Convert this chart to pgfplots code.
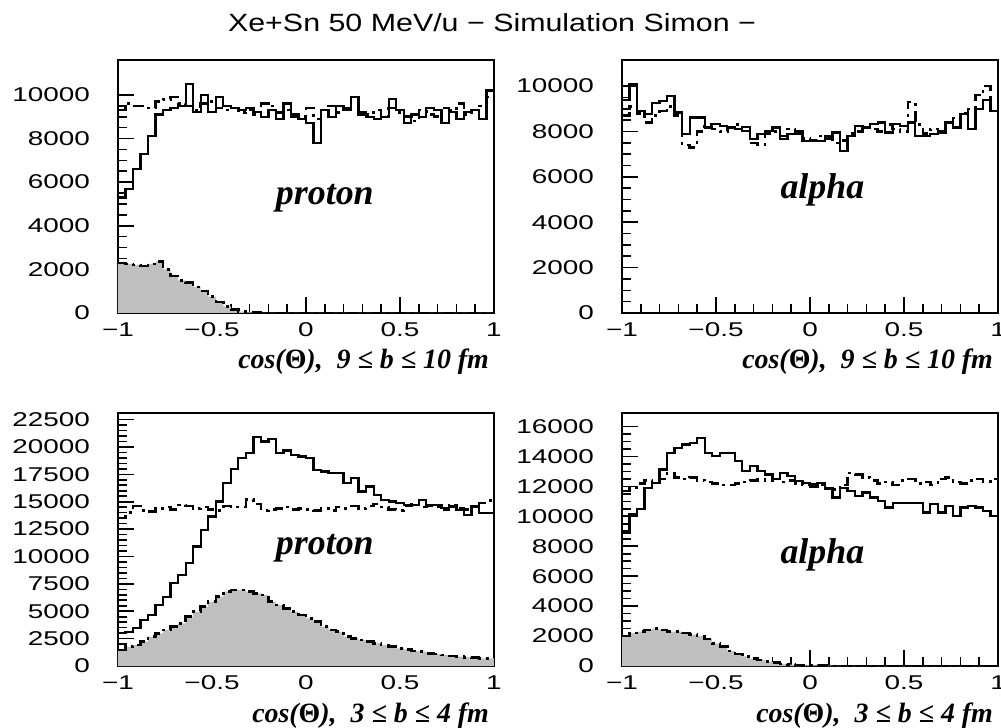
\documentclass[border=0pt]{standalone}
\usepackage{fontspec}
\setmainfont{Liberation Sans}[FakeStretch=1.4]
\newfontfamily\tfont{Liberation Sans}[FakeStretch=1.22]
\newfontfamily\serbi{Liberation Serif}
\usepackage{pgfplots}
\usepackage{pgfplotstable}
\pgfplotsset{compat=1.18}

% top-left: proton, 9<=b<=10 fm  (x = bin left edge; s = solid, d = dashed, f = shaded)
\pgfplotstableread{
x s d f
-1.00 5300 9300 2300
-0.96 5700 9600 2250
-0.92 6600 9500 2200
-0.88 7300 9500 2150
-0.84 8100 9400 2250
-0.80 9100 9700 2350
-0.76 9300 9800 2000
-0.72 9400 9900 1700
-0.68 9500 9600 1500
-0.64 10500 9500 1400
-0.60 9200 9300 1200
-0.56 10000 9600 1000
-0.52 9200 9700 750
-0.48 9900 9400 500
-0.44 9500 9300 300
-0.40 9400 9400 150
-0.36 9300 9200 60
-0.32 9400 9300 30
-0.28 9200 9100 20
-0.24 9000 9600 10
-0.20 9300 9500 10
-0.16 8900 9200 5
-0.12 9600 9300 5
-0.08 9000 9100 0
-0.04 8900 9000 0
0.00 8700 9400 0
0.04 7800 8900 0
0.08 9300 9300 0
0.12 9000 9500 0
0.16 9500 9200 0
0.20 9400 9300 0
0.24 9900 9400 0
0.28 9100 9200 0
0.32 9000 9100 0
0.36 8900 9300 0
0.40 9000 9000 0
0.44 9800 9400 0
0.48 9300 9200 0
0.52 8700 9000 0
0.56 9100 8800 0
0.60 9000 9300 0
0.64 9400 9100 0
0.68 9300 9000 0
0.72 8700 9400 0
0.76 9200 9300 0
0.80 8900 9600 0
0.84 9200 9100 0
0.88 9300 9300 0
0.92 8900 9500 0
0.96 10200 9900 0
1.00 10200 9900 0
}\tl

% top-right: alpha, 9<=b<=10 fm
\pgfplotstableread{
x s d
-1.00 9400 8700
-0.96 10070 9100
-0.92 8900 8800
-0.88 8760 8400
-0.84 9270 8700
-0.80 9340 8900
-0.76 9560 9100
-0.72 8830 8700
-0.68 7880 7400
-0.64 8610 7300
-0.60 8610 8000
-0.56 8170 8300
-0.52 8320 8100
-0.48 8250 8000
-0.44 8170 8200
-0.40 8100 8300
-0.36 8030 8200
-0.32 7660 7500
-0.28 7880 7400
-0.24 8030 7900
-0.20 8170 8000
-0.16 7660 7800
-0.12 7880 8100
-0.08 8030 7900
-0.04 7590 7700
0.00 7590 7600
0.04 7590 7800
0.08 7810 7700
0.12 7950 7500
0.16 7150 7600
0.20 7810 7900
0.24 8250 8000
0.28 8170 8200
0.32 8320 8100
0.36 8390 8000
0.40 7950 8300
0.44 8320 8100
0.48 8250 8000
0.52 8390 9300
0.56 7810 8300
0.60 7810 7900
0.64 7880 8100
0.68 7950 8000
0.72 8390 8400
0.76 8170 8600
0.80 8760 8800
0.84 8100 9000
0.88 8980 9600
0.92 9400 10000
0.96 8900 9500
1.00 8900 9500
}\tr

% bottom-left: proton, 3<=b<=4 fm
\pgfplotstableread{
x s d f
-1.00 3000 13500 1460
-0.96 3130 14000 1770
-0.92 3440 14600 1920
-0.88 4200 14200 2220
-0.84 4660 14100 2680
-0.80 5570 14400 2980
-0.76 6330 14500 3290
-0.72 7550 14300 3590
-0.68 8310 14700 3900
-0.64 9380 14600 4500
-0.60 10900 14400 4960
-0.56 12420 14500 5420
-0.52 13640 14300 5880
-0.48 15010 14200 6330
-0.44 16680 14600 6790
-0.40 17960 14500 6940
-0.36 18970 14500 6940
-0.32 19420 15200 6790
-0.28 20880 14800 6640
-0.24 20490 14200 6480
-0.20 20700 14300 5880
-0.16 19420 14400 5570
-0.12 19670 14500 5270
-0.08 19270 14300 4960
-0.04 19120 14400 4660
0.00 19000 14300 4350
0.04 17900 14200 4050
0.08 17750 14400 3590
0.12 17600 14200 3290
0.16 17600 14500 3140
0.20 16680 14400 2680
0.24 17140 14600 2530
0.28 15920 14400 2370
0.32 16380 14600 2220
0.36 15620 14800 2070
0.40 15160 14500 1920
0.44 15010 14300 1770
0.48 14860 14200 1610
0.52 14700 14600 1520
0.56 14700 14800 1370
0.60 15160 14500 1310
0.64 14700 14600 1160
0.68 14700 14500 1100
0.72 14400 14300 1000
0.76 14550 14700 910
0.80 14250 14400 850
0.84 13790 14300 790
0.88 14550 14500 760
0.92 13940 14900 700
0.96 13940 15100 700
1.00 13940 15100 700
}\bl

% bottom-right: alpha, 3<=b<=4 fm
\pgfplotstableread{
x s d f
-1.00 8910 11700 2000
-0.96 10130 11900 2200
-0.92 10470 12200 2300
-0.88 11910 12400 2400
-0.84 12240 12300 2500
-0.80 13130 12500 2400
-0.76 14250 12900 2300
-0.72 14580 12600 2300
-0.68 14800 12500 2200
-0.64 14900 12600 2100
-0.60 15250 12400 2000
-0.56 14250 12300 1800
-0.52 14020 12200 1500
-0.48 14250 12100 1300
-0.44 14250 12100 1000
-0.40 13690 12200 800
-0.36 13020 12300 650
-0.32 13360 12400 500
-0.28 13020 12500 400
-0.24 12800 12400 300
-0.20 12470 12500 250
-0.16 12910 12300 150
-0.12 12690 12400 100
-0.08 12360 12200 80
-0.04 12240 12100 50
0.00 12130 12000 40
0.04 12240 12100 20
0.08 11800 11900 20
0.12 11250 11800 10
0.16 11910 12100 10
0.20 11690 12900 10
0.24 11360 12800 0
0.28 11580 12600 0
0.32 11250 12400 0
0.36 11020 12200 0
0.40 10580 12300 0
0.44 10910 12100 0
0.48 10910 12400 0
0.52 10910 12500 0
0.56 10910 12200 0
0.60 10250 12300 0
0.64 10800 12100 0
0.68 10250 12500 0
0.72 10690 12600 0
0.76 10020 12300 0
0.80 10580 12200 0
0.84 10690 12400 0
0.88 10580 12500 0
0.92 10360 12300 0
0.96 10020 12500 0
1.00 10020 12500 0
}\br

\pgfplotsset{
  hist/.style={
    scale only axis, width=188bp, height=126.5bp,
    anchor=south west, clip=false,
    xmin=-1, xmax=1, ymin=0,
    axis line style={line width=1.3bp},
    tick align=inside, xtick pos=bottom, ytick pos=left,
    xtick={-1,-0.5,0,0.5,1}, xticklabels={−1,−0.5,0,0.5,1},
    minor x tick num=4,
    major tick length=8bp, minor tick length=4.5bp,
    tick style={line width=0.8bp, black},
    scaled y ticks=false,
    /pgf/number format/assume math mode=true,
    /pgf/number format/1000 sep={},
    ticklabel style={font=\fontsize{10}{12}\selectfont},
    yticklabel style={xshift=-10.5bp},
    xticklabel style={yshift=-1.5bp},
  },
  sol/.style={const plot mark left, line width=1.15bp, black},
  das/.style={const plot mark left, line width=1.25bp, black, dash pattern=on 5.5bp off 2.5bp on 1.5bp off 2.5bp},
  shd/.style={const plot mark left, draw=none, fill=black!25},
}
\tikzset{
  lab/.style={font=\serbi\bfseries\itshape\fontsize{18}{20}\selectfont},
  xl/.style={anchor=base east, yshift=-28bp, xshift=1bp, font=\serbi\bfseries\itshape\fontsize{14}{16}\selectfont},
}

\begin{document}
\begin{tikzpicture}
\path[use as bounding box] (0,0) rectangle (500.5bp,364bp);
\node[font=\tfont\fontsize{12.5}{14}\selectfont] at (246bp,352.5bp) {Xe+Sn 50 MeV/u − Simulation Simon −};

% top-left
\begin{axis}[hist, at={(59bp,207.5bp)}, ymax=11600, ytick={0,2000,...,10000}, minor y tick num=3]
\addplot[shd] table[x=x,y=f]{\tl} \closedcycle;
\addplot[das] table[x=x,y=f]{\tl};
\addplot[das] table[x=x,y=d]{\tl};
\addplot[sol] table[x=x,y=s]{\tl};
\node[lab] at (rel axis cs:0.55,0.455) {proton};
\node[xl] at (rel axis cs:1,0) {cos({\upshape Θ}),\ \ 9 ≤ b ≤ 10 fm};
\end{axis}

% top-right
\begin{axis}[hist, at={(311bp,207.5bp)}, ymax=11150, ytick={0,2000,...,10000}, minor y tick num=3]
\addplot[das] table[x=x,y=d]{\tr};
\addplot[sol] table[x=x,y=s]{\tr};
\node[lab] at (rel axis cs:0.533,0.486) {alpha};
\node[xl] at (rel axis cs:1,0) {cos({\upshape Θ}),\ \ 9 ≤ b ≤ 10 fm};
\end{axis}

% bottom-left
\begin{axis}[hist, at={(59bp,31bp)}, ymax=23100, ytick={0,2500,...,22500}, minor y tick num=4]
\addplot[shd] table[x=x,y=f]{\bl} \closedcycle;
\addplot[das] table[x=x,y=f]{\bl};
\addplot[das] table[x=x,y=d]{\bl};
\addplot[sol] table[x=x,y=s]{\bl};
\node[lab] at (rel axis cs:0.55,0.466) {proton};
\node[xl] at (rel axis cs:1,0) {cos({\upshape Θ}),\ \ 3 ≤ b ≤ 4 fm};
\end{axis}

% bottom-right
\begin{axis}[hist, at={(311bp,31bp)}, ymax=16900, ytick={0,2000,...,16000}, minor y tick num=3]
\addplot[shd] table[x=x,y=f]{\br} \closedcycle;
\addplot[das] table[x=x,y=f]{\br};
\addplot[das] table[x=x,y=d]{\br};
\addplot[sol] table[x=x,y=s]{\br};
\node[lab] at (rel axis cs:0.533,0.44) {alpha};
\node[xl] at (rel axis cs:1,0) {cos({\upshape Θ}),\ \ 3 ≤ b ≤ 4 fm};
\end{axis}
\end{tikzpicture}
\end{document}
